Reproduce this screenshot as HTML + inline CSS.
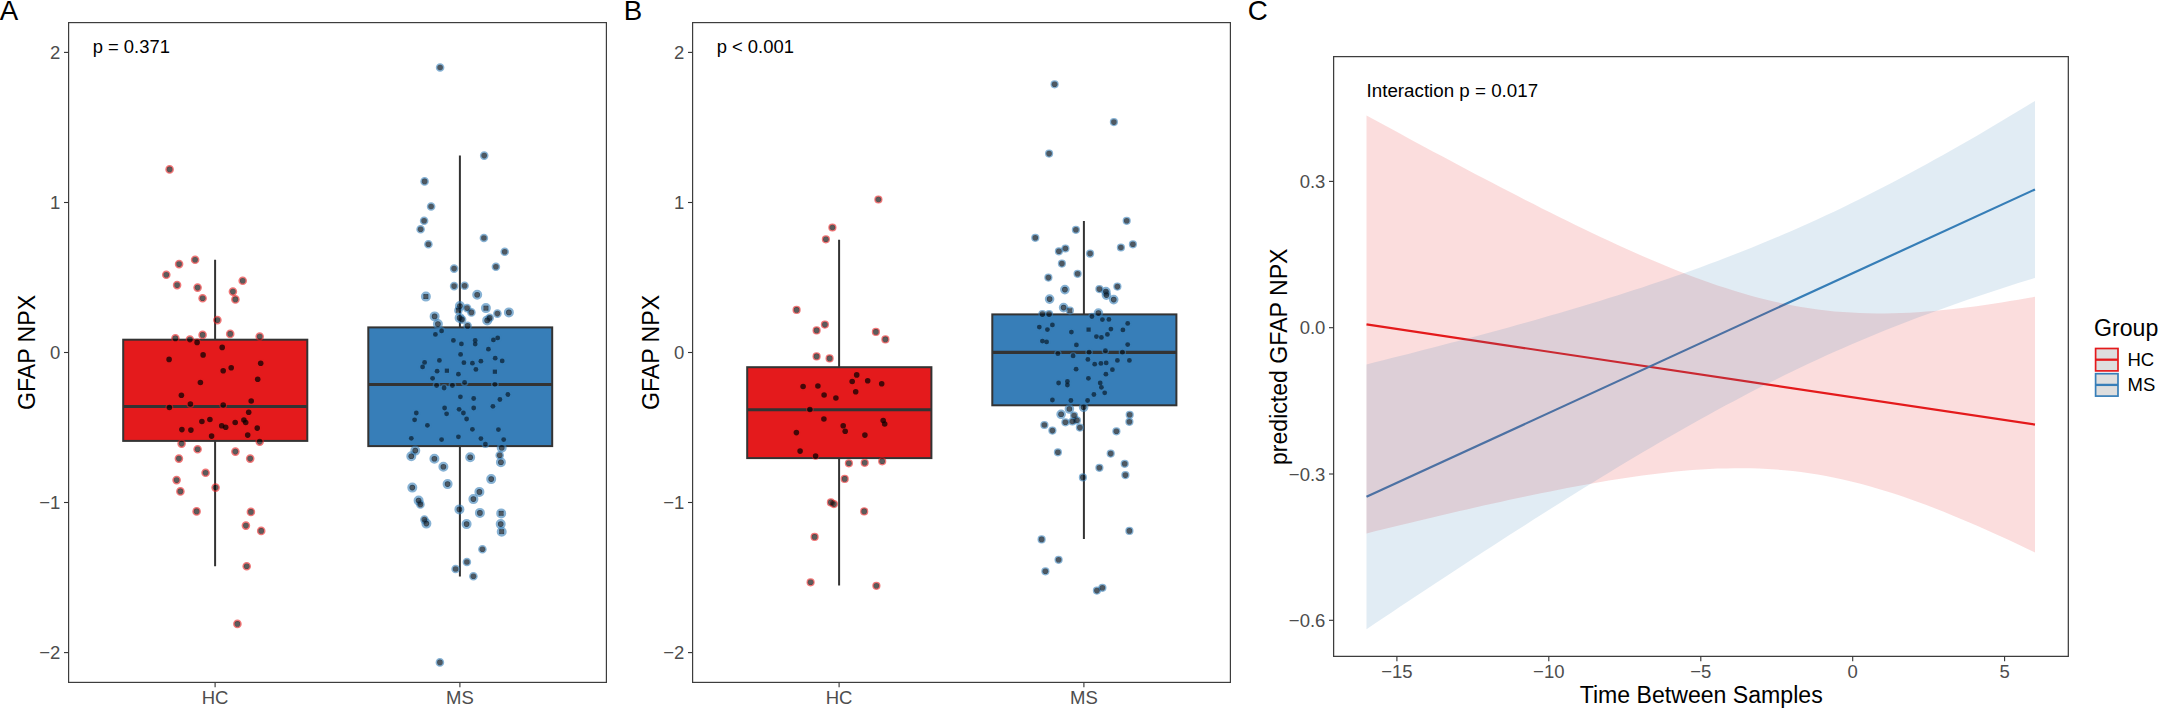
<!DOCTYPE html>
<html><head><meta charset="utf-8"><title>GFAP NPX</title>
<style>html,body{margin:0;padding:0;background:#fff}svg{display:block}</style></head>
<body>
<svg width="2158" height="708" viewBox="0 0 2158 708" font-family="'Liberation Sans', Arial, sans-serif">
<rect width="2158" height="708" fill="#fff"/>
<text x="-0.3" y="19.8" font-size="27.7" fill="#000">A</text>
<text x="623.8" y="19.8" font-size="27.7" fill="#000">B</text>
<text x="1247.7" y="19.8" font-size="27.7" fill="#000">C</text>
<line x1="64" y1="52.4" x2="68.5" y2="52.4" stroke="#333333" stroke-width="1.1"/>
<text x="60.4" y="59" font-size="18.5" fill="#4D4D4D" text-anchor="end">2</text>
<line x1="64" y1="202.5" x2="68.5" y2="202.5" stroke="#333333" stroke-width="1.1"/>
<text x="60.4" y="209.1" font-size="18.5" fill="#4D4D4D" text-anchor="end">1</text>
<line x1="64" y1="352.5" x2="68.5" y2="352.5" stroke="#333333" stroke-width="1.1"/>
<text x="60.4" y="359.1" font-size="18.5" fill="#4D4D4D" text-anchor="end">0</text>
<line x1="64" y1="502.5" x2="68.5" y2="502.5" stroke="#333333" stroke-width="1.1"/>
<text x="60.4" y="509.1" font-size="18.5" fill="#4D4D4D" text-anchor="end">−1</text>
<line x1="64" y1="652.6" x2="68.5" y2="652.6" stroke="#333333" stroke-width="1.1"/>
<text x="60.4" y="659.2" font-size="18.5" fill="#4D4D4D" text-anchor="end">−2</text>
<line x1="215.1" y1="682.4" x2="215.1" y2="687.2" stroke="#333333" stroke-width="1.1"/>
<text x="215.1" y="703.9" font-size="18.5" fill="#4D4D4D" text-anchor="middle">HC</text>
<line x1="459.9" y1="682.4" x2="459.9" y2="687.2" stroke="#333333" stroke-width="1.1"/>
<text x="459.9" y="703.9" font-size="18.5" fill="#4D4D4D" text-anchor="middle">MS</text>
<path d="M215.1 259.8V339.7M215.1 440.9V566.3" stroke="#333333" stroke-width="2" fill="none"/>
<rect x="123.2" y="339.7" width="184.1" height="101.2" fill="#E41A1C" stroke="#333333" stroke-width="2"/>
<line x1="123.2" y1="406.5" x2="307.3" y2="406.5" stroke="#333333" stroke-width="3.1"/>
<path d="M459.9 155.6V327.4M459.9 446.1V576.6" stroke="#333333" stroke-width="2" fill="none"/>
<rect x="368.3" y="327.4" width="183.9" height="118.7" fill="#377EB8" stroke="#333333" stroke-width="2"/>
<line x1="368.3" y1="384.5" x2="552.2" y2="384.5" stroke="#333333" stroke-width="3.1"/>
<circle cx="169.6" cy="169.4" r="3.4" fill="none" stroke="#E41A1C" stroke-opacity="0.6" stroke-width="1.8"/>
<circle cx="195.1" cy="259.8" r="3.4" fill="none" stroke="#E41A1C" stroke-opacity="0.6" stroke-width="1.8"/>
<circle cx="179.1" cy="264.1" r="3.4" fill="none" stroke="#E41A1C" stroke-opacity="0.6" stroke-width="1.8"/>
<circle cx="166.3" cy="274.8" r="3.4" fill="none" stroke="#E41A1C" stroke-opacity="0.6" stroke-width="1.8"/>
<circle cx="242.7" cy="280.8" r="3.4" fill="none" stroke="#E41A1C" stroke-opacity="0.6" stroke-width="1.8"/>
<circle cx="177.1" cy="285.1" r="3.4" fill="none" stroke="#E41A1C" stroke-opacity="0.6" stroke-width="1.8"/>
<circle cx="197.6" cy="287.6" r="3.4" fill="none" stroke="#E41A1C" stroke-opacity="0.6" stroke-width="1.8"/>
<circle cx="232.9" cy="291.6" r="3.4" fill="none" stroke="#E41A1C" stroke-opacity="0.6" stroke-width="1.8"/>
<circle cx="202.6" cy="298.3" r="3.4" fill="none" stroke="#E41A1C" stroke-opacity="0.6" stroke-width="1.8"/>
<circle cx="235.4" cy="299.4" r="3.4" fill="none" stroke="#E41A1C" stroke-opacity="0.6" stroke-width="1.8"/>
<circle cx="217.4" cy="320.1" r="3.4" fill="none" stroke="#E41A1C" stroke-opacity="0.6" stroke-width="1.8"/>
<circle cx="202.6" cy="334.9" r="3.4" fill="none" stroke="#E41A1C" stroke-opacity="0.6" stroke-width="1.8"/>
<circle cx="230.2" cy="333.9" r="3.4" fill="none" stroke="#E41A1C" stroke-opacity="0.6" stroke-width="1.8"/>
<circle cx="175.4" cy="338.4" r="3.4" fill="none" stroke="#E41A1C" stroke-opacity="0.6" stroke-width="1.8"/>
<circle cx="189.9" cy="339.6" r="3.4" fill="none" stroke="#E41A1C" stroke-opacity="0.6" stroke-width="1.8"/>
<circle cx="259.7" cy="336.6" r="3.4" fill="none" stroke="#E41A1C" stroke-opacity="0.6" stroke-width="1.8"/>
<circle cx="259.7" cy="441.6" r="3.4" fill="none" stroke="#E41A1C" stroke-opacity="0.6" stroke-width="1.8"/>
<circle cx="181.6" cy="443.6" r="3.4" fill="none" stroke="#E41A1C" stroke-opacity="0.6" stroke-width="1.8"/>
<circle cx="197.6" cy="449.3" r="3.4" fill="none" stroke="#E41A1C" stroke-opacity="0.6" stroke-width="1.8"/>
<circle cx="235.4" cy="451.6" r="3.4" fill="none" stroke="#E41A1C" stroke-opacity="0.6" stroke-width="1.8"/>
<circle cx="178.9" cy="458.6" r="3.4" fill="none" stroke="#E41A1C" stroke-opacity="0.6" stroke-width="1.8"/>
<circle cx="250.2" cy="458.6" r="3.4" fill="none" stroke="#E41A1C" stroke-opacity="0.6" stroke-width="1.8"/>
<circle cx="205.6" cy="472.8" r="3.4" fill="none" stroke="#E41A1C" stroke-opacity="0.6" stroke-width="1.8"/>
<circle cx="176.6" cy="480.1" r="3.4" fill="none" stroke="#E41A1C" stroke-opacity="0.6" stroke-width="1.8"/>
<circle cx="215.6" cy="487.6" r="3.4" fill="none" stroke="#E41A1C" stroke-opacity="0.6" stroke-width="1.8"/>
<circle cx="180.4" cy="491.4" r="3.4" fill="none" stroke="#E41A1C" stroke-opacity="0.6" stroke-width="1.8"/>
<circle cx="196.6" cy="511.4" r="3.4" fill="none" stroke="#E41A1C" stroke-opacity="0.6" stroke-width="1.8"/>
<circle cx="250.9" cy="511.9" r="3.4" fill="none" stroke="#E41A1C" stroke-opacity="0.6" stroke-width="1.8"/>
<circle cx="245.9" cy="525.6" r="3.4" fill="none" stroke="#E41A1C" stroke-opacity="0.6" stroke-width="1.8"/>
<circle cx="261.2" cy="530.9" r="3.4" fill="none" stroke="#E41A1C" stroke-opacity="0.6" stroke-width="1.8"/>
<circle cx="246.7" cy="566.3" r="3.4" fill="none" stroke="#E41A1C" stroke-opacity="0.6" stroke-width="1.8"/>
<circle cx="237.4" cy="623.9" r="3.4" fill="none" stroke="#E41A1C" stroke-opacity="0.6" stroke-width="1.8"/>
<circle cx="197.1" cy="342.4" r="3.2" fill="none" stroke="#E41A1C" stroke-opacity="0.6" stroke-width="1.5"/>
<circle cx="222.2" cy="347.4" r="3.2" fill="none" stroke="#E41A1C" stroke-opacity="0.6" stroke-width="1.5"/>
<circle cx="203.1" cy="354.9" r="3.2" fill="none" stroke="#E41A1C" stroke-opacity="0.6" stroke-width="1.5"/>
<circle cx="169.1" cy="359.4" r="3.2" fill="none" stroke="#E41A1C" stroke-opacity="0.6" stroke-width="1.5"/>
<circle cx="260.7" cy="363.2" r="3.2" fill="none" stroke="#E41A1C" stroke-opacity="0.6" stroke-width="1.5"/>
<circle cx="231.2" cy="367.7" r="3.2" fill="none" stroke="#E41A1C" stroke-opacity="0.6" stroke-width="1.5"/>
<circle cx="223.2" cy="370.7" r="3.2" fill="none" stroke="#E41A1C" stroke-opacity="0.6" stroke-width="1.5"/>
<circle cx="257.7" cy="379.3" r="3.2" fill="none" stroke="#E41A1C" stroke-opacity="0.6" stroke-width="1.5"/>
<circle cx="200.4" cy="382.5" r="3.2" fill="none" stroke="#E41A1C" stroke-opacity="0.6" stroke-width="1.5"/>
<circle cx="181.4" cy="395.3" r="3.2" fill="none" stroke="#E41A1C" stroke-opacity="0.6" stroke-width="1.5"/>
<circle cx="251.2" cy="401" r="3.2" fill="none" stroke="#E41A1C" stroke-opacity="0.6" stroke-width="1.5"/>
<circle cx="190.4" cy="404" r="3.2" fill="none" stroke="#E41A1C" stroke-opacity="0.6" stroke-width="1.5"/>
<circle cx="223.2" cy="405" r="3.2" fill="none" stroke="#E41A1C" stroke-opacity="0.6" stroke-width="1.5"/>
<circle cx="169.4" cy="407.5" r="3.2" fill="none" stroke="#E41A1C" stroke-opacity="0.6" stroke-width="1.5"/>
<circle cx="248.7" cy="412.3" r="3.2" fill="none" stroke="#E41A1C" stroke-opacity="0.6" stroke-width="1.5"/>
<circle cx="209.9" cy="419.5" r="3.2" fill="none" stroke="#E41A1C" stroke-opacity="0.6" stroke-width="1.5"/>
<circle cx="201.9" cy="421.5" r="3.2" fill="none" stroke="#E41A1C" stroke-opacity="0.6" stroke-width="1.5"/>
<circle cx="243.9" cy="420" r="3.2" fill="none" stroke="#E41A1C" stroke-opacity="0.6" stroke-width="1.5"/>
<circle cx="245.7" cy="422.5" r="3.2" fill="none" stroke="#E41A1C" stroke-opacity="0.6" stroke-width="1.5"/>
<circle cx="235.2" cy="422.5" r="3.2" fill="none" stroke="#E41A1C" stroke-opacity="0.6" stroke-width="1.5"/>
<circle cx="221.7" cy="425.8" r="3.2" fill="none" stroke="#E41A1C" stroke-opacity="0.6" stroke-width="1.5"/>
<circle cx="225.7" cy="427.3" r="3.2" fill="none" stroke="#E41A1C" stroke-opacity="0.6" stroke-width="1.5"/>
<circle cx="181.9" cy="429.6" r="3.2" fill="none" stroke="#E41A1C" stroke-opacity="0.6" stroke-width="1.5"/>
<circle cx="190.9" cy="430.1" r="3.2" fill="none" stroke="#E41A1C" stroke-opacity="0.6" stroke-width="1.5"/>
<circle cx="257.2" cy="428.1" r="3.2" fill="none" stroke="#E41A1C" stroke-opacity="0.6" stroke-width="1.5"/>
<circle cx="247.7" cy="435.1" r="3.2" fill="none" stroke="#E41A1C" stroke-opacity="0.6" stroke-width="1.5"/>
<circle cx="211.6" cy="436.1" r="3.2" fill="none" stroke="#E41A1C" stroke-opacity="0.6" stroke-width="1.5"/>
<circle cx="440.1" cy="67.5" r="3.4" fill="none" stroke="#377EB8" stroke-opacity="0.6" stroke-width="1.8"/>
<circle cx="484.2" cy="155.6" r="3.4" fill="none" stroke="#377EB8" stroke-opacity="0.6" stroke-width="1.8"/>
<circle cx="424.6" cy="181.4" r="3.4" fill="none" stroke="#377EB8" stroke-opacity="0.6" stroke-width="1.8"/>
<circle cx="431.1" cy="206.5" r="3.4" fill="none" stroke="#377EB8" stroke-opacity="0.6" stroke-width="1.8"/>
<circle cx="424.1" cy="220.8" r="3.4" fill="none" stroke="#377EB8" stroke-opacity="0.6" stroke-width="1.8"/>
<circle cx="420.6" cy="229.3" r="3.4" fill="none" stroke="#377EB8" stroke-opacity="0.6" stroke-width="1.8"/>
<circle cx="483.9" cy="238" r="3.4" fill="none" stroke="#377EB8" stroke-opacity="0.6" stroke-width="1.8"/>
<circle cx="428.4" cy="244.3" r="3.4" fill="none" stroke="#377EB8" stroke-opacity="0.6" stroke-width="1.8"/>
<circle cx="504.7" cy="251.8" r="3.4" fill="none" stroke="#377EB8" stroke-opacity="0.6" stroke-width="1.8"/>
<circle cx="495.9" cy="266.8" r="3.4" fill="none" stroke="#377EB8" stroke-opacity="0.6" stroke-width="1.8"/>
<circle cx="454.1" cy="268.6" r="3.4" fill="none" stroke="#377EB8" stroke-opacity="0.6" stroke-width="1.8"/>
<circle cx="454.1" cy="286.1" r="3.4" fill="none" stroke="#377EB8" stroke-opacity="0.6" stroke-width="1.8"/>
<circle cx="464.6" cy="285.8" r="3.4" fill="none" stroke="#377EB8" stroke-opacity="0.6" stroke-width="1.8"/>
<circle cx="425.9" cy="296.6" r="3.6" fill="none" stroke="#377EB8" stroke-opacity="0.6" stroke-width="2.8"/>
<circle cx="477.2" cy="294.8" r="3.6" fill="none" stroke="#377EB8" stroke-opacity="0.6" stroke-width="2.8"/>
<circle cx="459.9" cy="306.1" r="3.6" fill="none" stroke="#377EB8" stroke-opacity="0.6" stroke-width="2.8"/>
<circle cx="467.1" cy="308.1" r="3.4" fill="none" stroke="#377EB8" stroke-opacity="0.6" stroke-width="1.8"/>
<circle cx="458.4" cy="310.4" r="3.4" fill="none" stroke="#377EB8" stroke-opacity="0.6" stroke-width="1.8"/>
<circle cx="471.4" cy="312.4" r="3.4" fill="none" stroke="#377EB8" stroke-opacity="0.6" stroke-width="1.8"/>
<circle cx="485.9" cy="308.1" r="3.6" fill="none" stroke="#377EB8" stroke-opacity="0.6" stroke-width="2.8"/>
<circle cx="497.4" cy="313.6" r="3.4" fill="none" stroke="#377EB8" stroke-opacity="0.6" stroke-width="1.8"/>
<circle cx="508.9" cy="312.4" r="3.6" fill="none" stroke="#377EB8" stroke-opacity="0.6" stroke-width="2.8"/>
<circle cx="434.6" cy="316.4" r="3.6" fill="none" stroke="#377EB8" stroke-opacity="0.6" stroke-width="2.8"/>
<circle cx="459.6" cy="317.9" r="3.6" fill="none" stroke="#377EB8" stroke-opacity="0.6" stroke-width="2.8"/>
<circle cx="462.1" cy="319.6" r="3.4" fill="none" stroke="#377EB8" stroke-opacity="0.6" stroke-width="1.8"/>
<circle cx="489.7" cy="317.9" r="3.4" fill="none" stroke="#377EB8" stroke-opacity="0.6" stroke-width="1.8"/>
<circle cx="487.2" cy="320.4" r="3.6" fill="none" stroke="#377EB8" stroke-opacity="0.6" stroke-width="2.8"/>
<circle cx="437.9" cy="324.1" r="3.6" fill="none" stroke="#377EB8" stroke-opacity="0.6" stroke-width="2.8"/>
<circle cx="467.6" cy="325.9" r="3.4" fill="none" stroke="#377EB8" stroke-opacity="0.6" stroke-width="1.8"/>
<circle cx="415.3" cy="450.6" r="3.6" fill="none" stroke="#377EB8" stroke-opacity="0.6" stroke-width="2.8"/>
<circle cx="411.3" cy="456.3" r="3.6" fill="none" stroke="#377EB8" stroke-opacity="0.6" stroke-width="2.8"/>
<circle cx="501.7" cy="447.8" r="3.6" fill="none" stroke="#377EB8" stroke-opacity="0.6" stroke-width="2.8"/>
<circle cx="499.7" cy="455.3" r="3.4" fill="none" stroke="#377EB8" stroke-opacity="0.6" stroke-width="1.8"/>
<circle cx="500.9" cy="462.3" r="3.6" fill="none" stroke="#377EB8" stroke-opacity="0.6" stroke-width="2.8"/>
<circle cx="434.4" cy="458.8" r="3.6" fill="none" stroke="#377EB8" stroke-opacity="0.6" stroke-width="2.8"/>
<circle cx="470.2" cy="457.3" r="3.6" fill="none" stroke="#377EB8" stroke-opacity="0.6" stroke-width="2.8"/>
<circle cx="443.4" cy="466.8" r="3.6" fill="none" stroke="#377EB8" stroke-opacity="0.6" stroke-width="2.8"/>
<circle cx="491.2" cy="479.1" r="3.6" fill="none" stroke="#377EB8" stroke-opacity="0.6" stroke-width="2.8"/>
<circle cx="447.6" cy="484.1" r="3.6" fill="none" stroke="#377EB8" stroke-opacity="0.6" stroke-width="2.8"/>
<circle cx="412.3" cy="487.6" r="3.6" fill="none" stroke="#377EB8" stroke-opacity="0.6" stroke-width="2.8"/>
<circle cx="479.4" cy="491.9" r="3.6" fill="none" stroke="#377EB8" stroke-opacity="0.6" stroke-width="2.8"/>
<circle cx="473.4" cy="499.1" r="3.6" fill="none" stroke="#377EB8" stroke-opacity="0.6" stroke-width="2.8"/>
<circle cx="418.6" cy="500.6" r="3.6" fill="none" stroke="#377EB8" stroke-opacity="0.6" stroke-width="2.8"/>
<circle cx="420.4" cy="504.4" r="3.4" fill="none" stroke="#377EB8" stroke-opacity="0.6" stroke-width="1.8"/>
<circle cx="459.4" cy="509.4" r="3.6" fill="none" stroke="#377EB8" stroke-opacity="0.6" stroke-width="2.8"/>
<circle cx="479.9" cy="512.9" r="3.6" fill="none" stroke="#377EB8" stroke-opacity="0.6" stroke-width="2.8"/>
<circle cx="501.2" cy="513.4" r="3.6" fill="none" stroke="#377EB8" stroke-opacity="0.6" stroke-width="2.8"/>
<circle cx="424.4" cy="519.6" r="3.4" fill="none" stroke="#377EB8" stroke-opacity="0.6" stroke-width="1.8"/>
<circle cx="426.4" cy="523.6" r="3.6" fill="none" stroke="#377EB8" stroke-opacity="0.6" stroke-width="2.8"/>
<circle cx="466.6" cy="524.1" r="3.6" fill="none" stroke="#377EB8" stroke-opacity="0.6" stroke-width="2.8"/>
<circle cx="500.7" cy="524.1" r="3.6" fill="none" stroke="#377EB8" stroke-opacity="0.6" stroke-width="2.8"/>
<circle cx="501.7" cy="531.7" r="3.6" fill="none" stroke="#377EB8" stroke-opacity="0.6" stroke-width="2.8"/>
<circle cx="482.4" cy="549.2" r="3.4" fill="none" stroke="#377EB8" stroke-opacity="0.6" stroke-width="1.8"/>
<circle cx="466.9" cy="562" r="3.4" fill="none" stroke="#377EB8" stroke-opacity="0.6" stroke-width="1.8"/>
<circle cx="455.6" cy="569" r="3.4" fill="none" stroke="#377EB8" stroke-opacity="0.6" stroke-width="1.8"/>
<circle cx="473.4" cy="576.3" r="3.4" fill="none" stroke="#377EB8" stroke-opacity="0.6" stroke-width="1.8"/>
<circle cx="439.9" cy="662.4" r="3.4" fill="none" stroke="#377EB8" stroke-opacity="0.6" stroke-width="1.8"/>
<circle cx="441.6" cy="330.9" r="3.2" fill="none" stroke="#377EB8" stroke-opacity="0.6" stroke-width="1.5"/>
<circle cx="435.4" cy="334.4" r="3.2" fill="none" stroke="#377EB8" stroke-opacity="0.6" stroke-width="1.5"/>
<circle cx="497.7" cy="337.9" r="3.2" fill="none" stroke="#377EB8" stroke-opacity="0.6" stroke-width="1.5"/>
<circle cx="493.4" cy="339.9" r="3.2" fill="none" stroke="#377EB8" stroke-opacity="0.6" stroke-width="1.5"/>
<circle cx="453.4" cy="340.4" r="3.2" fill="none" stroke="#377EB8" stroke-opacity="0.6" stroke-width="1.5"/>
<circle cx="475.2" cy="340.4" r="3.2" fill="none" stroke="#377EB8" stroke-opacity="0.6" stroke-width="1.5"/>
<circle cx="461.4" cy="343.9" r="3.2" fill="none" stroke="#377EB8" stroke-opacity="0.6" stroke-width="1.5"/>
<circle cx="475.2" cy="344.1" r="3.2" fill="none" stroke="#377EB8" stroke-opacity="0.6" stroke-width="1.5"/>
<circle cx="488.4" cy="349.2" r="3.2" fill="none" stroke="#377EB8" stroke-opacity="0.6" stroke-width="1.5"/>
<circle cx="460.6" cy="354.4" r="3.2" fill="none" stroke="#377EB8" stroke-opacity="0.6" stroke-width="1.5"/>
<circle cx="495.2" cy="358.2" r="3.2" fill="none" stroke="#377EB8" stroke-opacity="0.6" stroke-width="1.5"/>
<circle cx="439.4" cy="360.4" r="3.2" fill="none" stroke="#377EB8" stroke-opacity="0.6" stroke-width="1.5"/>
<circle cx="502.2" cy="360.9" r="3.2" fill="none" stroke="#377EB8" stroke-opacity="0.6" stroke-width="1.5"/>
<circle cx="480.9" cy="361.2" r="3.2" fill="none" stroke="#377EB8" stroke-opacity="0.6" stroke-width="1.5"/>
<circle cx="424.6" cy="362.4" r="3.2" fill="none" stroke="#377EB8" stroke-opacity="0.6" stroke-width="1.5"/>
<circle cx="463.9" cy="362.7" r="3.2" fill="none" stroke="#377EB8" stroke-opacity="0.6" stroke-width="1.5"/>
<circle cx="472.4" cy="363.2" r="3.2" fill="none" stroke="#377EB8" stroke-opacity="0.6" stroke-width="1.5"/>
<circle cx="422.6" cy="366.9" r="3.2" fill="none" stroke="#377EB8" stroke-opacity="0.6" stroke-width="1.5"/>
<circle cx="475.9" cy="369.4" r="3.2" fill="none" stroke="#377EB8" stroke-opacity="0.6" stroke-width="1.5"/>
<circle cx="437.1" cy="371.2" r="3.2" fill="none" stroke="#377EB8" stroke-opacity="0.6" stroke-width="1.5"/>
<circle cx="446.9" cy="370.7" r="3.2" fill="none" stroke="#377EB8" stroke-opacity="0.6" stroke-width="1.5"/>
<circle cx="494.9" cy="371.7" r="3.2" fill="none" stroke="#377EB8" stroke-opacity="0.6" stroke-width="1.5"/>
<circle cx="458.4" cy="374.2" r="3.2" fill="none" stroke="#377EB8" stroke-opacity="0.6" stroke-width="1.5"/>
<circle cx="432.6" cy="378.3" r="3.2" fill="none" stroke="#377EB8" stroke-opacity="0.6" stroke-width="1.5"/>
<circle cx="464.6" cy="382.3" r="3.2" fill="none" stroke="#377EB8" stroke-opacity="0.6" stroke-width="1.5"/>
<circle cx="436.6" cy="385.5" r="3.2" fill="none" stroke="#377EB8" stroke-opacity="0.6" stroke-width="1.5"/>
<circle cx="452.4" cy="385.5" r="3.2" fill="none" stroke="#377EB8" stroke-opacity="0.6" stroke-width="1.5"/>
<circle cx="494.9" cy="384.3" r="3.2" fill="none" stroke="#377EB8" stroke-opacity="0.6" stroke-width="1.5"/>
<circle cx="444.1" cy="388" r="3.2" fill="none" stroke="#377EB8" stroke-opacity="0.6" stroke-width="1.5"/>
<circle cx="507.9" cy="394.5" r="3.2" fill="none" stroke="#377EB8" stroke-opacity="0.6" stroke-width="1.5"/>
<circle cx="460.4" cy="396.8" r="3.2" fill="none" stroke="#377EB8" stroke-opacity="0.6" stroke-width="1.5"/>
<circle cx="473.7" cy="398.5" r="3.2" fill="none" stroke="#377EB8" stroke-opacity="0.6" stroke-width="1.5"/>
<circle cx="499.9" cy="399.5" r="3.2" fill="none" stroke="#377EB8" stroke-opacity="0.6" stroke-width="1.5"/>
<circle cx="492.9" cy="406.3" r="3.2" fill="none" stroke="#377EB8" stroke-opacity="0.6" stroke-width="1.5"/>
<circle cx="473.7" cy="408" r="3.2" fill="none" stroke="#377EB8" stroke-opacity="0.6" stroke-width="1.5"/>
<circle cx="444.6" cy="408" r="3.2" fill="none" stroke="#377EB8" stroke-opacity="0.6" stroke-width="1.5"/>
<circle cx="459.1" cy="409.3" r="3.2" fill="none" stroke="#377EB8" stroke-opacity="0.6" stroke-width="1.5"/>
<circle cx="446.6" cy="413.8" r="3.2" fill="none" stroke="#377EB8" stroke-opacity="0.6" stroke-width="1.5"/>
<circle cx="416.3" cy="413" r="3.2" fill="none" stroke="#377EB8" stroke-opacity="0.6" stroke-width="1.5"/>
<circle cx="463.4" cy="413" r="3.2" fill="none" stroke="#377EB8" stroke-opacity="0.6" stroke-width="1.5"/>
<circle cx="414.6" cy="419.8" r="3.2" fill="none" stroke="#377EB8" stroke-opacity="0.6" stroke-width="1.5"/>
<circle cx="466.6" cy="419" r="3.2" fill="none" stroke="#377EB8" stroke-opacity="0.6" stroke-width="1.5"/>
<circle cx="427.4" cy="425.3" r="3.2" fill="none" stroke="#377EB8" stroke-opacity="0.6" stroke-width="1.5"/>
<circle cx="472.4" cy="429.3" r="3.2" fill="none" stroke="#377EB8" stroke-opacity="0.6" stroke-width="1.5"/>
<circle cx="498.4" cy="429.6" r="3.2" fill="none" stroke="#377EB8" stroke-opacity="0.6" stroke-width="1.5"/>
<circle cx="411.3" cy="438.3" r="3.2" fill="none" stroke="#377EB8" stroke-opacity="0.6" stroke-width="1.5"/>
<circle cx="441.6" cy="439.6" r="3.2" fill="none" stroke="#377EB8" stroke-opacity="0.6" stroke-width="1.5"/>
<circle cx="458.4" cy="436.8" r="3.2" fill="none" stroke="#377EB8" stroke-opacity="0.6" stroke-width="1.5"/>
<circle cx="503.7" cy="439.6" r="3.2" fill="none" stroke="#377EB8" stroke-opacity="0.6" stroke-width="1.5"/>
<circle cx="480.9" cy="438.6" r="3.2" fill="none" stroke="#377EB8" stroke-opacity="0.6" stroke-width="1.5"/>
<circle cx="485.4" cy="444.1" r="3.2" fill="none" stroke="#377EB8" stroke-opacity="0.6" stroke-width="1.5"/>
<circle cx="169.6" cy="169.4" r="2.8" fill="#000" fill-opacity="0.64"/>
<circle cx="195.1" cy="259.8" r="2.8" fill="#000" fill-opacity="0.64"/>
<circle cx="179.1" cy="264.1" r="2.8" fill="#000" fill-opacity="0.64"/>
<circle cx="166.3" cy="274.8" r="2.8" fill="#000" fill-opacity="0.64"/>
<circle cx="242.7" cy="280.8" r="2.8" fill="#000" fill-opacity="0.64"/>
<circle cx="177.1" cy="285.1" r="2.8" fill="#000" fill-opacity="0.64"/>
<circle cx="197.6" cy="287.6" r="2.8" fill="#000" fill-opacity="0.64"/>
<circle cx="232.9" cy="291.6" r="2.8" fill="#000" fill-opacity="0.64"/>
<circle cx="202.6" cy="298.3" r="2.8" fill="#000" fill-opacity="0.64"/>
<circle cx="235.4" cy="299.4" r="2.8" fill="#000" fill-opacity="0.64"/>
<circle cx="217.4" cy="320.1" r="2.8" fill="#000" fill-opacity="0.64"/>
<circle cx="202.6" cy="334.9" r="2.8" fill="#000" fill-opacity="0.64"/>
<circle cx="230.2" cy="333.9" r="2.8" fill="#000" fill-opacity="0.64"/>
<circle cx="175.4" cy="338.4" r="2.8" fill="#000" fill-opacity="0.64"/>
<circle cx="189.9" cy="339.6" r="2.8" fill="#000" fill-opacity="0.64"/>
<circle cx="259.7" cy="336.6" r="2.8" fill="#000" fill-opacity="0.64"/>
<circle cx="259.7" cy="441.6" r="2.8" fill="#000" fill-opacity="0.64"/>
<circle cx="181.6" cy="443.6" r="2.8" fill="#000" fill-opacity="0.64"/>
<circle cx="197.6" cy="449.3" r="2.8" fill="#000" fill-opacity="0.64"/>
<circle cx="235.4" cy="451.6" r="2.8" fill="#000" fill-opacity="0.64"/>
<circle cx="178.9" cy="458.6" r="2.8" fill="#000" fill-opacity="0.64"/>
<circle cx="250.2" cy="458.6" r="2.8" fill="#000" fill-opacity="0.64"/>
<circle cx="205.6" cy="472.8" r="2.8" fill="#000" fill-opacity="0.64"/>
<circle cx="176.6" cy="480.1" r="2.8" fill="#000" fill-opacity="0.64"/>
<circle cx="215.6" cy="487.6" r="2.8" fill="#000" fill-opacity="0.64"/>
<circle cx="180.4" cy="491.4" r="2.8" fill="#000" fill-opacity="0.64"/>
<circle cx="196.6" cy="511.4" r="2.8" fill="#000" fill-opacity="0.64"/>
<circle cx="250.9" cy="511.9" r="2.8" fill="#000" fill-opacity="0.64"/>
<circle cx="245.9" cy="525.6" r="2.8" fill="#000" fill-opacity="0.64"/>
<circle cx="261.2" cy="530.9" r="2.8" fill="#000" fill-opacity="0.64"/>
<circle cx="246.7" cy="566.3" r="2.8" fill="#000" fill-opacity="0.64"/>
<circle cx="237.4" cy="623.9" r="2.8" fill="#000" fill-opacity="0.64"/>
<circle cx="197.1" cy="342.4" r="2.8" fill="#000" fill-opacity="0.7"/>
<circle cx="222.2" cy="347.4" r="2.8" fill="#000" fill-opacity="0.7"/>
<circle cx="203.1" cy="354.9" r="2.8" fill="#000" fill-opacity="0.7"/>
<circle cx="169.1" cy="359.4" r="2.8" fill="#000" fill-opacity="0.7"/>
<circle cx="260.7" cy="363.2" r="2.8" fill="#000" fill-opacity="0.7"/>
<circle cx="231.2" cy="367.7" r="2.8" fill="#000" fill-opacity="0.7"/>
<circle cx="223.2" cy="370.7" r="2.8" fill="#000" fill-opacity="0.7"/>
<circle cx="257.7" cy="379.3" r="2.8" fill="#000" fill-opacity="0.7"/>
<circle cx="200.4" cy="382.5" r="2.8" fill="#000" fill-opacity="0.7"/>
<circle cx="181.4" cy="395.3" r="2.8" fill="#000" fill-opacity="0.7"/>
<circle cx="251.2" cy="401" r="2.8" fill="#000" fill-opacity="0.7"/>
<circle cx="190.4" cy="404" r="2.8" fill="#000" fill-opacity="0.7"/>
<circle cx="223.2" cy="405" r="2.8" fill="#000" fill-opacity="0.7"/>
<circle cx="169.4" cy="407.5" r="2.8" fill="#000" fill-opacity="0.7"/>
<circle cx="248.7" cy="412.3" r="2.8" fill="#000" fill-opacity="0.7"/>
<circle cx="209.9" cy="419.5" r="2.8" fill="#000" fill-opacity="0.7"/>
<circle cx="201.9" cy="421.5" r="2.8" fill="#000" fill-opacity="0.7"/>
<circle cx="243.9" cy="420" r="2.8" fill="#000" fill-opacity="0.7"/>
<circle cx="245.7" cy="422.5" r="2.8" fill="#000" fill-opacity="0.7"/>
<circle cx="235.2" cy="422.5" r="2.8" fill="#000" fill-opacity="0.7"/>
<circle cx="221.7" cy="425.8" r="2.8" fill="#000" fill-opacity="0.7"/>
<circle cx="225.7" cy="427.3" r="2.8" fill="#000" fill-opacity="0.7"/>
<circle cx="181.9" cy="429.6" r="2.8" fill="#000" fill-opacity="0.7"/>
<circle cx="190.9" cy="430.1" r="2.8" fill="#000" fill-opacity="0.7"/>
<circle cx="257.2" cy="428.1" r="2.8" fill="#000" fill-opacity="0.7"/>
<circle cx="247.7" cy="435.1" r="2.8" fill="#000" fill-opacity="0.7"/>
<circle cx="211.6" cy="436.1" r="2.8" fill="#000" fill-opacity="0.7"/>
<circle cx="440.1" cy="67.5" r="2.8" fill="#04121f" fill-opacity="0.7"/>
<circle cx="484.2" cy="155.6" r="2.8" fill="#04121f" fill-opacity="0.7"/>
<circle cx="424.6" cy="181.4" r="2.8" fill="#04121f" fill-opacity="0.7"/>
<circle cx="431.1" cy="206.5" r="2.8" fill="#04121f" fill-opacity="0.7"/>
<circle cx="424.1" cy="220.8" r="2.8" fill="#04121f" fill-opacity="0.7"/>
<circle cx="420.6" cy="229.3" r="2.8" fill="#04121f" fill-opacity="0.7"/>
<circle cx="483.9" cy="238" r="2.8" fill="#04121f" fill-opacity="0.7"/>
<circle cx="428.4" cy="244.3" r="2.8" fill="#04121f" fill-opacity="0.7"/>
<circle cx="504.7" cy="251.8" r="2.8" fill="#04121f" fill-opacity="0.7"/>
<circle cx="495.9" cy="266.8" r="2.8" fill="#04121f" fill-opacity="0.7"/>
<circle cx="454.1" cy="268.6" r="2.8" fill="#04121f" fill-opacity="0.7"/>
<circle cx="454.1" cy="286.1" r="2.8" fill="#04121f" fill-opacity="0.7"/>
<circle cx="464.6" cy="285.8" r="2.8" fill="#04121f" fill-opacity="0.7"/>
<rect x="423.4" y="294.1" width="4.9" height="4.9" fill="#04121f" fill-opacity="0.7"/>
<circle cx="477.2" cy="294.8" r="2.8" fill="#04121f" fill-opacity="0.7"/>
<circle cx="459.9" cy="306.1" r="2.8" fill="#04121f" fill-opacity="0.7"/>
<circle cx="467.1" cy="308.1" r="2.8" fill="#04121f" fill-opacity="0.7"/>
<rect x="455.9" y="307.9" width="4.9" height="4.9" fill="#04121f" fill-opacity="0.7"/>
<circle cx="471.4" cy="312.4" r="2.8" fill="#04121f" fill-opacity="0.7"/>
<rect x="483.5" y="305.7" width="4.9" height="4.9" fill="#04121f" fill-opacity="0.7"/>
<circle cx="497.4" cy="313.6" r="2.8" fill="#04121f" fill-opacity="0.7"/>
<circle cx="508.9" cy="312.4" r="2.8" fill="#04121f" fill-opacity="0.7"/>
<circle cx="434.6" cy="316.4" r="2.8" fill="#04121f" fill-opacity="0.7"/>
<circle cx="459.6" cy="317.9" r="2.8" fill="#04121f" fill-opacity="0.7"/>
<circle cx="462.1" cy="319.6" r="2.8" fill="#04121f" fill-opacity="0.7"/>
<circle cx="489.7" cy="317.9" r="2.8" fill="#04121f" fill-opacity="0.7"/>
<circle cx="487.2" cy="320.4" r="2.8" fill="#04121f" fill-opacity="0.7"/>
<circle cx="437.9" cy="324.1" r="2.8" fill="#04121f" fill-opacity="0.7"/>
<circle cx="467.6" cy="325.9" r="2.8" fill="#04121f" fill-opacity="0.7"/>
<circle cx="415.3" cy="450.6" r="2.8" fill="#04121f" fill-opacity="0.7"/>
<circle cx="411.3" cy="456.3" r="2.8" fill="#04121f" fill-opacity="0.7"/>
<circle cx="501.7" cy="447.8" r="2.8" fill="#04121f" fill-opacity="0.7"/>
<circle cx="499.7" cy="455.3" r="2.8" fill="#04121f" fill-opacity="0.7"/>
<circle cx="500.9" cy="462.3" r="2.8" fill="#04121f" fill-opacity="0.7"/>
<circle cx="434.4" cy="458.8" r="2.8" fill="#04121f" fill-opacity="0.7"/>
<circle cx="470.2" cy="457.3" r="2.8" fill="#04121f" fill-opacity="0.7"/>
<circle cx="443.4" cy="466.8" r="2.8" fill="#04121f" fill-opacity="0.7"/>
<circle cx="491.2" cy="479.1" r="2.8" fill="#04121f" fill-opacity="0.7"/>
<circle cx="447.6" cy="484.1" r="2.8" fill="#04121f" fill-opacity="0.7"/>
<circle cx="412.3" cy="487.6" r="2.8" fill="#04121f" fill-opacity="0.7"/>
<circle cx="479.4" cy="491.9" r="2.8" fill="#04121f" fill-opacity="0.7"/>
<circle cx="473.4" cy="499.1" r="2.8" fill="#04121f" fill-opacity="0.7"/>
<circle cx="418.6" cy="500.6" r="2.8" fill="#04121f" fill-opacity="0.7"/>
<circle cx="420.4" cy="504.4" r="2.8" fill="#04121f" fill-opacity="0.7"/>
<circle cx="459.4" cy="509.4" r="2.8" fill="#04121f" fill-opacity="0.7"/>
<circle cx="479.9" cy="512.9" r="2.8" fill="#04121f" fill-opacity="0.7"/>
<rect x="498.7" y="510.9" width="4.9" height="4.9" fill="#04121f" fill-opacity="0.7"/>
<circle cx="424.4" cy="519.6" r="2.8" fill="#04121f" fill-opacity="0.7"/>
<circle cx="426.4" cy="523.6" r="2.8" fill="#04121f" fill-opacity="0.7"/>
<circle cx="466.6" cy="524.1" r="2.8" fill="#04121f" fill-opacity="0.7"/>
<circle cx="500.7" cy="524.1" r="2.8" fill="#04121f" fill-opacity="0.7"/>
<rect x="499.2" y="529.2" width="4.9" height="4.9" fill="#04121f" fill-opacity="0.7"/>
<circle cx="482.4" cy="549.2" r="2.8" fill="#04121f" fill-opacity="0.7"/>
<circle cx="466.9" cy="562" r="2.8" fill="#04121f" fill-opacity="0.7"/>
<circle cx="455.6" cy="569" r="2.8" fill="#04121f" fill-opacity="0.7"/>
<circle cx="473.4" cy="576.3" r="2.8" fill="#04121f" fill-opacity="0.7"/>
<circle cx="439.9" cy="662.4" r="2.8" fill="#04121f" fill-opacity="0.7"/>
<circle cx="441.6" cy="330.9" r="2.4" fill="#04121f" fill-opacity="0.64"/>
<circle cx="435.4" cy="334.4" r="2.4" fill="#04121f" fill-opacity="0.64"/>
<circle cx="497.7" cy="337.9" r="2.4" fill="#04121f" fill-opacity="0.64"/>
<circle cx="493.4" cy="339.9" r="2.4" fill="#04121f" fill-opacity="0.64"/>
<circle cx="453.4" cy="340.4" r="2.4" fill="#04121f" fill-opacity="0.64"/>
<circle cx="475.2" cy="340.4" r="2.4" fill="#04121f" fill-opacity="0.64"/>
<circle cx="461.4" cy="343.9" r="2.4" fill="#04121f" fill-opacity="0.64"/>
<circle cx="475.2" cy="344.1" r="2.4" fill="#04121f" fill-opacity="0.64"/>
<circle cx="488.4" cy="349.2" r="2.4" fill="#04121f" fill-opacity="0.64"/>
<circle cx="460.6" cy="354.4" r="2.4" fill="#04121f" fill-opacity="0.64"/>
<circle cx="495.2" cy="358.2" r="2.4" fill="#04121f" fill-opacity="0.64"/>
<circle cx="439.4" cy="360.4" r="2.4" fill="#04121f" fill-opacity="0.64"/>
<circle cx="502.2" cy="360.9" r="2.4" fill="#04121f" fill-opacity="0.64"/>
<circle cx="480.9" cy="361.2" r="2.4" fill="#04121f" fill-opacity="0.64"/>
<circle cx="424.6" cy="362.4" r="2.4" fill="#04121f" fill-opacity="0.64"/>
<circle cx="463.9" cy="362.7" r="2.4" fill="#04121f" fill-opacity="0.64"/>
<circle cx="472.4" cy="363.2" r="2.4" fill="#04121f" fill-opacity="0.64"/>
<circle cx="422.6" cy="366.9" r="2.4" fill="#04121f" fill-opacity="0.64"/>
<circle cx="475.9" cy="369.4" r="2.4" fill="#04121f" fill-opacity="0.64"/>
<circle cx="437.1" cy="371.2" r="2.4" fill="#04121f" fill-opacity="0.64"/>
<rect x="444.8" y="368.6" width="4.2" height="4.2" fill="#04121f" fill-opacity="0.64"/>
<rect x="492.8" y="369.6" width="4.2" height="4.2" fill="#04121f" fill-opacity="0.64"/>
<circle cx="458.4" cy="374.2" r="2.4" fill="#04121f" fill-opacity="0.64"/>
<circle cx="432.6" cy="378.3" r="2.4" fill="#04121f" fill-opacity="0.64"/>
<circle cx="464.6" cy="382.3" r="2.4" fill="#04121f" fill-opacity="0.64"/>
<circle cx="436.6" cy="385.5" r="2.4" fill="#04121f" fill-opacity="0.64"/>
<circle cx="452.4" cy="385.5" r="2.4" fill="#04121f" fill-opacity="0.64"/>
<circle cx="494.9" cy="384.3" r="2.4" fill="#04121f" fill-opacity="0.64"/>
<circle cx="444.1" cy="388" r="2.4" fill="#04121f" fill-opacity="0.64"/>
<circle cx="507.9" cy="394.5" r="2.4" fill="#04121f" fill-opacity="0.64"/>
<circle cx="460.4" cy="396.8" r="2.4" fill="#04121f" fill-opacity="0.64"/>
<circle cx="473.7" cy="398.5" r="2.4" fill="#04121f" fill-opacity="0.64"/>
<circle cx="499.9" cy="399.5" r="2.4" fill="#04121f" fill-opacity="0.64"/>
<circle cx="492.9" cy="406.3" r="2.4" fill="#04121f" fill-opacity="0.64"/>
<circle cx="473.7" cy="408" r="2.4" fill="#04121f" fill-opacity="0.64"/>
<circle cx="444.6" cy="408" r="2.4" fill="#04121f" fill-opacity="0.64"/>
<circle cx="459.1" cy="409.3" r="2.4" fill="#04121f" fill-opacity="0.64"/>
<circle cx="446.6" cy="413.8" r="2.4" fill="#04121f" fill-opacity="0.64"/>
<circle cx="416.3" cy="413" r="2.4" fill="#04121f" fill-opacity="0.64"/>
<circle cx="463.4" cy="413" r="2.4" fill="#04121f" fill-opacity="0.64"/>
<circle cx="414.6" cy="419.8" r="2.4" fill="#04121f" fill-opacity="0.64"/>
<circle cx="466.6" cy="419" r="2.4" fill="#04121f" fill-opacity="0.64"/>
<circle cx="427.4" cy="425.3" r="2.4" fill="#04121f" fill-opacity="0.64"/>
<circle cx="472.4" cy="429.3" r="2.4" fill="#04121f" fill-opacity="0.64"/>
<circle cx="498.4" cy="429.6" r="2.4" fill="#04121f" fill-opacity="0.64"/>
<circle cx="411.3" cy="438.3" r="2.4" fill="#04121f" fill-opacity="0.64"/>
<circle cx="441.6" cy="439.6" r="2.4" fill="#04121f" fill-opacity="0.64"/>
<circle cx="458.4" cy="436.8" r="2.4" fill="#04121f" fill-opacity="0.64"/>
<circle cx="503.7" cy="439.6" r="2.4" fill="#04121f" fill-opacity="0.64"/>
<circle cx="480.9" cy="438.6" r="2.4" fill="#04121f" fill-opacity="0.64"/>
<circle cx="485.4" cy="444.1" r="2.4" fill="#04121f" fill-opacity="0.64"/>
<rect x="68.60" y="22.60" width="537.80" height="659.80" fill="none" stroke="#3d3d3d" stroke-width="1.2"/>
<text x="92.7" y="52.7" font-size="18.4" fill="#000">p = 0.371</text>
<text transform="translate(35.4,352.5) rotate(-90)" font-size="23.1" fill="#000" text-anchor="middle">GFAP NPX</text>
<line x1="688" y1="52.4" x2="692.5" y2="52.4" stroke="#333333" stroke-width="1.1"/>
<text x="684.4" y="59" font-size="18.5" fill="#4D4D4D" text-anchor="end">2</text>
<line x1="688" y1="202.5" x2="692.5" y2="202.5" stroke="#333333" stroke-width="1.1"/>
<text x="684.4" y="209.1" font-size="18.5" fill="#4D4D4D" text-anchor="end">1</text>
<line x1="688" y1="352.5" x2="692.5" y2="352.5" stroke="#333333" stroke-width="1.1"/>
<text x="684.4" y="359.1" font-size="18.5" fill="#4D4D4D" text-anchor="end">0</text>
<line x1="688" y1="502.5" x2="692.5" y2="502.5" stroke="#333333" stroke-width="1.1"/>
<text x="684.4" y="509.1" font-size="18.5" fill="#4D4D4D" text-anchor="end">−1</text>
<line x1="688" y1="652.6" x2="692.5" y2="652.6" stroke="#333333" stroke-width="1.1"/>
<text x="684.4" y="659.2" font-size="18.5" fill="#4D4D4D" text-anchor="end">−2</text>
<line x1="839.1" y1="682.4" x2="839.1" y2="687.2" stroke="#333333" stroke-width="1.1"/>
<text x="839.1" y="703.9" font-size="18.5" fill="#4D4D4D" text-anchor="middle">HC</text>
<line x1="1083.9" y1="682.4" x2="1083.9" y2="687.2" stroke="#333333" stroke-width="1.1"/>
<text x="1083.9" y="703.9" font-size="18.5" fill="#4D4D4D" text-anchor="middle">MS</text>
<path d="M839.1 239.8V367.2M839.1 458.1V585.6" stroke="#333333" stroke-width="2" fill="none"/>
<rect x="747.2" y="367.2" width="184.2" height="90.9" fill="#E41A1C" stroke="#333333" stroke-width="2"/>
<line x1="747.2" y1="409.8" x2="931.4" y2="409.8" stroke="#333333" stroke-width="3.1"/>
<path d="M1083.9 221V314.4M1083.9 405.3V539.1" stroke="#333333" stroke-width="2" fill="none"/>
<rect x="992.3" y="314.4" width="184.1" height="90.9" fill="#377EB8" stroke="#333333" stroke-width="2"/>
<line x1="992.3" y1="352.4" x2="1176.4" y2="352.4" stroke="#333333" stroke-width="3.1"/>
<circle cx="878.4" cy="199.5" r="3.3" fill="none" stroke="#E41A1C" stroke-opacity="0.6" stroke-width="1.6"/>
<circle cx="832.4" cy="227.5" r="3.3" fill="none" stroke="#E41A1C" stroke-opacity="0.6" stroke-width="1.6"/>
<circle cx="825.9" cy="239.3" r="3.3" fill="none" stroke="#E41A1C" stroke-opacity="0.6" stroke-width="1.6"/>
<circle cx="796.6" cy="309.9" r="3.3" fill="none" stroke="#E41A1C" stroke-opacity="0.6" stroke-width="1.6"/>
<circle cx="824.9" cy="324.6" r="3.3" fill="none" stroke="#E41A1C" stroke-opacity="0.6" stroke-width="1.6"/>
<circle cx="816.6" cy="330.4" r="3.3" fill="none" stroke="#E41A1C" stroke-opacity="0.6" stroke-width="1.6"/>
<circle cx="875.9" cy="331.9" r="3.3" fill="none" stroke="#E41A1C" stroke-opacity="0.6" stroke-width="1.6"/>
<circle cx="885.4" cy="339.4" r="3.3" fill="none" stroke="#E41A1C" stroke-opacity="0.6" stroke-width="1.6"/>
<circle cx="816.6" cy="356.4" r="3.3" fill="none" stroke="#E41A1C" stroke-opacity="0.6" stroke-width="1.6"/>
<circle cx="829.6" cy="358.4" r="3.3" fill="none" stroke="#E41A1C" stroke-opacity="0.6" stroke-width="1.6"/>
<circle cx="848.9" cy="463.3" r="3.3" fill="none" stroke="#E41A1C" stroke-opacity="0.6" stroke-width="1.6"/>
<circle cx="864.7" cy="462.8" r="3.3" fill="none" stroke="#E41A1C" stroke-opacity="0.6" stroke-width="1.6"/>
<circle cx="882.2" cy="461.3" r="3.3" fill="none" stroke="#E41A1C" stroke-opacity="0.6" stroke-width="1.6"/>
<circle cx="844.7" cy="478.9" r="3.3" fill="none" stroke="#E41A1C" stroke-opacity="0.6" stroke-width="1.6"/>
<circle cx="830.9" cy="502.4" r="3.3" fill="none" stroke="#E41A1C" stroke-opacity="0.6" stroke-width="1.6"/>
<circle cx="833.9" cy="504.1" r="3.3" fill="none" stroke="#E41A1C" stroke-opacity="0.6" stroke-width="1.6"/>
<circle cx="864.2" cy="511.4" r="3.3" fill="none" stroke="#E41A1C" stroke-opacity="0.6" stroke-width="1.6"/>
<circle cx="814.6" cy="536.9" r="3.3" fill="none" stroke="#E41A1C" stroke-opacity="0.6" stroke-width="1.6"/>
<circle cx="810.6" cy="582.3" r="3.3" fill="none" stroke="#E41A1C" stroke-opacity="0.6" stroke-width="1.6"/>
<circle cx="876.4" cy="585.8" r="3.3" fill="none" stroke="#E41A1C" stroke-opacity="0.6" stroke-width="1.6"/>
<circle cx="856.7" cy="374.9" r="3.1" fill="none" stroke="#E41A1C" stroke-opacity="0.6" stroke-width="1.3"/>
<circle cx="852.2" cy="381.5" r="3.1" fill="none" stroke="#E41A1C" stroke-opacity="0.6" stroke-width="1.3"/>
<circle cx="867.7" cy="380.8" r="3.1" fill="none" stroke="#E41A1C" stroke-opacity="0.6" stroke-width="1.3"/>
<circle cx="881.7" cy="383.8" r="3.1" fill="none" stroke="#E41A1C" stroke-opacity="0.6" stroke-width="1.3"/>
<circle cx="803.1" cy="386.5" r="3.1" fill="none" stroke="#E41A1C" stroke-opacity="0.6" stroke-width="1.3"/>
<circle cx="817.9" cy="386" r="3.1" fill="none" stroke="#E41A1C" stroke-opacity="0.6" stroke-width="1.3"/>
<circle cx="855.7" cy="391.8" r="3.1" fill="none" stroke="#E41A1C" stroke-opacity="0.6" stroke-width="1.3"/>
<circle cx="824.1" cy="395" r="3.1" fill="none" stroke="#E41A1C" stroke-opacity="0.6" stroke-width="1.3"/>
<circle cx="835.9" cy="398" r="3.1" fill="none" stroke="#E41A1C" stroke-opacity="0.6" stroke-width="1.3"/>
<circle cx="809.9" cy="409.5" r="3.1" fill="none" stroke="#E41A1C" stroke-opacity="0.6" stroke-width="1.3"/>
<circle cx="823.9" cy="419" r="3.1" fill="none" stroke="#E41A1C" stroke-opacity="0.6" stroke-width="1.3"/>
<circle cx="883.2" cy="420.5" r="3.1" fill="none" stroke="#E41A1C" stroke-opacity="0.6" stroke-width="1.3"/>
<circle cx="884.7" cy="424" r="3.1" fill="none" stroke="#E41A1C" stroke-opacity="0.6" stroke-width="1.3"/>
<circle cx="843.2" cy="425.8" r="3.1" fill="none" stroke="#E41A1C" stroke-opacity="0.6" stroke-width="1.3"/>
<circle cx="845.2" cy="431.3" r="3.1" fill="none" stroke="#E41A1C" stroke-opacity="0.6" stroke-width="1.3"/>
<circle cx="796.4" cy="432.6" r="3.1" fill="none" stroke="#E41A1C" stroke-opacity="0.6" stroke-width="1.3"/>
<circle cx="864.9" cy="435.1" r="3.1" fill="none" stroke="#E41A1C" stroke-opacity="0.6" stroke-width="1.3"/>
<circle cx="800.1" cy="451.1" r="3.1" fill="none" stroke="#E41A1C" stroke-opacity="0.6" stroke-width="1.3"/>
<circle cx="815.6" cy="456.1" r="3.1" fill="none" stroke="#E41A1C" stroke-opacity="0.6" stroke-width="1.3"/>
<circle cx="1054.6" cy="84.3" r="3.3" fill="none" stroke="#377EB8" stroke-opacity="0.6" stroke-width="1.6"/>
<circle cx="1113.9" cy="122.1" r="3.3" fill="none" stroke="#377EB8" stroke-opacity="0.6" stroke-width="1.6"/>
<circle cx="1049.1" cy="153.6" r="3.3" fill="none" stroke="#377EB8" stroke-opacity="0.6" stroke-width="1.6"/>
<circle cx="1126.7" cy="220.8" r="3.3" fill="none" stroke="#377EB8" stroke-opacity="0.6" stroke-width="1.6"/>
<circle cx="1075.9" cy="229.8" r="3.3" fill="none" stroke="#377EB8" stroke-opacity="0.6" stroke-width="1.6"/>
<circle cx="1035.3" cy="237.8" r="3.3" fill="none" stroke="#377EB8" stroke-opacity="0.6" stroke-width="1.6"/>
<circle cx="1132.9" cy="244.3" r="3.3" fill="none" stroke="#377EB8" stroke-opacity="0.6" stroke-width="1.6"/>
<circle cx="1120.9" cy="247.5" r="3.3" fill="none" stroke="#377EB8" stroke-opacity="0.6" stroke-width="1.6"/>
<circle cx="1065.4" cy="248.5" r="3.3" fill="none" stroke="#377EB8" stroke-opacity="0.6" stroke-width="1.6"/>
<circle cx="1058.9" cy="251.3" r="3.3" fill="none" stroke="#377EB8" stroke-opacity="0.6" stroke-width="1.6"/>
<circle cx="1090.1" cy="253.6" r="3.3" fill="none" stroke="#377EB8" stroke-opacity="0.6" stroke-width="1.6"/>
<circle cx="1061.9" cy="263.6" r="3.3" fill="none" stroke="#377EB8" stroke-opacity="0.6" stroke-width="1.6"/>
<circle cx="1077.6" cy="273.8" r="3.3" fill="none" stroke="#377EB8" stroke-opacity="0.6" stroke-width="1.6"/>
<circle cx="1048.4" cy="277.6" r="3.3" fill="none" stroke="#377EB8" stroke-opacity="0.6" stroke-width="1.6"/>
<circle cx="1117.4" cy="286.6" r="3.3" fill="none" stroke="#377EB8" stroke-opacity="0.6" stroke-width="1.6"/>
<circle cx="1064.9" cy="289.6" r="3.5" fill="none" stroke="#377EB8" stroke-opacity="0.6" stroke-width="2.6"/>
<circle cx="1099.4" cy="289.1" r="3.3" fill="none" stroke="#377EB8" stroke-opacity="0.6" stroke-width="1.6"/>
<circle cx="1105.9" cy="291.6" r="3.5" fill="none" stroke="#377EB8" stroke-opacity="0.6" stroke-width="2.6"/>
<circle cx="1106.4" cy="295.1" r="3.5" fill="none" stroke="#377EB8" stroke-opacity="0.6" stroke-width="2.6"/>
<circle cx="1113.7" cy="299.6" r="3.5" fill="none" stroke="#377EB8" stroke-opacity="0.6" stroke-width="2.6"/>
<circle cx="1049.6" cy="299.1" r="3.5" fill="none" stroke="#377EB8" stroke-opacity="0.6" stroke-width="2.6"/>
<circle cx="1063.6" cy="307.6" r="3.5" fill="none" stroke="#377EB8" stroke-opacity="0.6" stroke-width="2.6"/>
<circle cx="1069.9" cy="310.6" r="3.3" fill="none" stroke="#377EB8" stroke-opacity="0.6" stroke-width="1.6"/>
<circle cx="1098.4" cy="313.1" r="3.5" fill="none" stroke="#377EB8" stroke-opacity="0.6" stroke-width="2.6"/>
<circle cx="1042.4" cy="314.1" r="3.3" fill="none" stroke="#377EB8" stroke-opacity="0.6" stroke-width="1.6"/>
<circle cx="1049.1" cy="314.1" r="3.3" fill="none" stroke="#377EB8" stroke-opacity="0.6" stroke-width="1.6"/>
<circle cx="1069.4" cy="409" r="3.5" fill="none" stroke="#377EB8" stroke-opacity="0.6" stroke-width="2.6"/>
<circle cx="1083.6" cy="407.3" r="3.5" fill="none" stroke="#377EB8" stroke-opacity="0.6" stroke-width="2.6"/>
<circle cx="1061.1" cy="414.3" r="3.5" fill="none" stroke="#377EB8" stroke-opacity="0.6" stroke-width="2.6"/>
<circle cx="1074.1" cy="415.5" r="3.3" fill="none" stroke="#377EB8" stroke-opacity="0.6" stroke-width="1.6"/>
<circle cx="1129.7" cy="414.8" r="3.3" fill="none" stroke="#377EB8" stroke-opacity="0.6" stroke-width="1.6"/>
<circle cx="1065.4" cy="422.3" r="3.3" fill="none" stroke="#377EB8" stroke-opacity="0.6" stroke-width="1.6"/>
<circle cx="1072.4" cy="421.5" r="3.3" fill="none" stroke="#377EB8" stroke-opacity="0.6" stroke-width="1.6"/>
<circle cx="1076.9" cy="420.3" r="3.3" fill="none" stroke="#377EB8" stroke-opacity="0.6" stroke-width="1.6"/>
<circle cx="1129.4" cy="421.8" r="3.3" fill="none" stroke="#377EB8" stroke-opacity="0.6" stroke-width="1.6"/>
<circle cx="1044.4" cy="425" r="3.3" fill="none" stroke="#377EB8" stroke-opacity="0.6" stroke-width="1.6"/>
<circle cx="1079.9" cy="427.6" r="3.3" fill="none" stroke="#377EB8" stroke-opacity="0.6" stroke-width="1.6"/>
<circle cx="1052.4" cy="430.6" r="3.3" fill="none" stroke="#377EB8" stroke-opacity="0.6" stroke-width="1.6"/>
<circle cx="1116.4" cy="431.3" r="3.3" fill="none" stroke="#377EB8" stroke-opacity="0.6" stroke-width="1.6"/>
<circle cx="1057.9" cy="452.3" r="3.3" fill="none" stroke="#377EB8" stroke-opacity="0.6" stroke-width="1.6"/>
<circle cx="1110.7" cy="453.6" r="3.3" fill="none" stroke="#377EB8" stroke-opacity="0.6" stroke-width="1.6"/>
<circle cx="1124.7" cy="463.8" r="3.3" fill="none" stroke="#377EB8" stroke-opacity="0.6" stroke-width="1.6"/>
<circle cx="1099.4" cy="467.8" r="3.3" fill="none" stroke="#377EB8" stroke-opacity="0.6" stroke-width="1.6"/>
<circle cx="1082.9" cy="477.4" r="3.3" fill="none" stroke="#377EB8" stroke-opacity="0.6" stroke-width="1.6"/>
<circle cx="1125.4" cy="475.1" r="3.3" fill="none" stroke="#377EB8" stroke-opacity="0.6" stroke-width="1.6"/>
<circle cx="1129.4" cy="530.9" r="3.3" fill="none" stroke="#377EB8" stroke-opacity="0.6" stroke-width="1.6"/>
<circle cx="1041.6" cy="539.4" r="3.3" fill="none" stroke="#377EB8" stroke-opacity="0.6" stroke-width="1.6"/>
<circle cx="1058.6" cy="559.8" r="3.3" fill="none" stroke="#377EB8" stroke-opacity="0.6" stroke-width="1.6"/>
<circle cx="1045.4" cy="571.3" r="3.3" fill="none" stroke="#377EB8" stroke-opacity="0.6" stroke-width="1.6"/>
<circle cx="1102.4" cy="587.8" r="3.3" fill="none" stroke="#377EB8" stroke-opacity="0.6" stroke-width="1.6"/>
<circle cx="1096.9" cy="590.6" r="3.3" fill="none" stroke="#377EB8" stroke-opacity="0.6" stroke-width="1.6"/>
<circle cx="1091.9" cy="316.6" r="3.1" fill="none" stroke="#377EB8" stroke-opacity="0.6" stroke-width="1.3"/>
<circle cx="1102.4" cy="319.6" r="3.1" fill="none" stroke="#377EB8" stroke-opacity="0.6" stroke-width="1.3"/>
<circle cx="1108.9" cy="319.4" r="3.1" fill="none" stroke="#377EB8" stroke-opacity="0.6" stroke-width="1.3"/>
<circle cx="1127.7" cy="323.4" r="3.1" fill="none" stroke="#377EB8" stroke-opacity="0.6" stroke-width="1.3"/>
<circle cx="1052.4" cy="324.9" r="3.1" fill="none" stroke="#377EB8" stroke-opacity="0.6" stroke-width="1.3"/>
<circle cx="1039.3" cy="327.1" r="3.1" fill="none" stroke="#377EB8" stroke-opacity="0.6" stroke-width="1.3"/>
<circle cx="1047.4" cy="329.6" r="3.1" fill="none" stroke="#377EB8" stroke-opacity="0.6" stroke-width="1.3"/>
<circle cx="1088.6" cy="329.6" r="3.1" fill="none" stroke="#377EB8" stroke-opacity="0.6" stroke-width="1.3"/>
<circle cx="1110.9" cy="329.1" r="3.1" fill="none" stroke="#377EB8" stroke-opacity="0.6" stroke-width="1.3"/>
<circle cx="1122.9" cy="329.9" r="3.1" fill="none" stroke="#377EB8" stroke-opacity="0.6" stroke-width="1.3"/>
<circle cx="1071.4" cy="332.1" r="3.1" fill="none" stroke="#377EB8" stroke-opacity="0.6" stroke-width="1.3"/>
<circle cx="1107.4" cy="334.4" r="3.1" fill="none" stroke="#377EB8" stroke-opacity="0.6" stroke-width="1.3"/>
<circle cx="1096.4" cy="336.6" r="3.1" fill="none" stroke="#377EB8" stroke-opacity="0.6" stroke-width="1.3"/>
<circle cx="1101.4" cy="337.4" r="3.1" fill="none" stroke="#377EB8" stroke-opacity="0.6" stroke-width="1.3"/>
<circle cx="1042.4" cy="341.1" r="3.1" fill="none" stroke="#377EB8" stroke-opacity="0.6" stroke-width="1.3"/>
<circle cx="1046.6" cy="341.9" r="3.1" fill="none" stroke="#377EB8" stroke-opacity="0.6" stroke-width="1.3"/>
<circle cx="1076.4" cy="344.9" r="3.1" fill="none" stroke="#377EB8" stroke-opacity="0.6" stroke-width="1.3"/>
<circle cx="1127.7" cy="344.6" r="3.1" fill="none" stroke="#377EB8" stroke-opacity="0.6" stroke-width="1.3"/>
<circle cx="1057.9" cy="353.7" r="3.1" fill="none" stroke="#377EB8" stroke-opacity="0.6" stroke-width="1.3"/>
<circle cx="1089.1" cy="352.2" r="3.1" fill="none" stroke="#377EB8" stroke-opacity="0.6" stroke-width="1.3"/>
<circle cx="1105.4" cy="350.7" r="3.1" fill="none" stroke="#377EB8" stroke-opacity="0.6" stroke-width="1.3"/>
<circle cx="1122.4" cy="352.2" r="3.1" fill="none" stroke="#377EB8" stroke-opacity="0.6" stroke-width="1.3"/>
<circle cx="1073.1" cy="355.9" r="3.1" fill="none" stroke="#377EB8" stroke-opacity="0.6" stroke-width="1.3"/>
<circle cx="1087.9" cy="359.4" r="3.1" fill="none" stroke="#377EB8" stroke-opacity="0.6" stroke-width="1.3"/>
<circle cx="1117.4" cy="360.4" r="3.1" fill="none" stroke="#377EB8" stroke-opacity="0.6" stroke-width="1.3"/>
<circle cx="1129.4" cy="360.4" r="3.1" fill="none" stroke="#377EB8" stroke-opacity="0.6" stroke-width="1.3"/>
<circle cx="1094.7" cy="364.2" r="3.1" fill="none" stroke="#377EB8" stroke-opacity="0.6" stroke-width="1.3"/>
<circle cx="1100.9" cy="363.4" r="3.1" fill="none" stroke="#377EB8" stroke-opacity="0.6" stroke-width="1.3"/>
<circle cx="1106.2" cy="362.9" r="3.1" fill="none" stroke="#377EB8" stroke-opacity="0.6" stroke-width="1.3"/>
<circle cx="1076.1" cy="369.2" r="3.1" fill="none" stroke="#377EB8" stroke-opacity="0.6" stroke-width="1.3"/>
<circle cx="1112.4" cy="369.7" r="3.1" fill="none" stroke="#377EB8" stroke-opacity="0.6" stroke-width="1.3"/>
<circle cx="1105.9" cy="374.2" r="3.1" fill="none" stroke="#377EB8" stroke-opacity="0.6" stroke-width="1.3"/>
<circle cx="1088.4" cy="378.3" r="3.1" fill="none" stroke="#377EB8" stroke-opacity="0.6" stroke-width="1.3"/>
<circle cx="1067.4" cy="381.5" r="3.1" fill="none" stroke="#377EB8" stroke-opacity="0.6" stroke-width="1.3"/>
<circle cx="1058.6" cy="383" r="3.1" fill="none" stroke="#377EB8" stroke-opacity="0.6" stroke-width="1.3"/>
<circle cx="1067.4" cy="385" r="3.1" fill="none" stroke="#377EB8" stroke-opacity="0.6" stroke-width="1.3"/>
<circle cx="1100.2" cy="383" r="3.1" fill="none" stroke="#377EB8" stroke-opacity="0.6" stroke-width="1.3"/>
<circle cx="1101.4" cy="387.3" r="3.1" fill="none" stroke="#377EB8" stroke-opacity="0.6" stroke-width="1.3"/>
<circle cx="1104.7" cy="392.8" r="3.1" fill="none" stroke="#377EB8" stroke-opacity="0.6" stroke-width="1.3"/>
<circle cx="1093.9" cy="394.5" r="3.1" fill="none" stroke="#377EB8" stroke-opacity="0.6" stroke-width="1.3"/>
<circle cx="1052.4" cy="400" r="3.1" fill="none" stroke="#377EB8" stroke-opacity="0.6" stroke-width="1.3"/>
<circle cx="1070.9" cy="400.5" r="3.1" fill="none" stroke="#377EB8" stroke-opacity="0.6" stroke-width="1.3"/>
<circle cx="1087.6" cy="400.5" r="3.1" fill="none" stroke="#377EB8" stroke-opacity="0.6" stroke-width="1.3"/>
<circle cx="878.4" cy="199.5" r="2.8" fill="#000" fill-opacity="0.64"/>
<circle cx="832.4" cy="227.5" r="2.8" fill="#000" fill-opacity="0.64"/>
<circle cx="825.9" cy="239.3" r="2.8" fill="#000" fill-opacity="0.64"/>
<circle cx="796.6" cy="309.9" r="2.8" fill="#000" fill-opacity="0.64"/>
<circle cx="824.9" cy="324.6" r="2.8" fill="#000" fill-opacity="0.64"/>
<circle cx="816.6" cy="330.4" r="2.8" fill="#000" fill-opacity="0.64"/>
<circle cx="875.9" cy="331.9" r="2.8" fill="#000" fill-opacity="0.64"/>
<circle cx="885.4" cy="339.4" r="2.8" fill="#000" fill-opacity="0.64"/>
<circle cx="816.6" cy="356.4" r="2.8" fill="#000" fill-opacity="0.64"/>
<circle cx="829.6" cy="358.4" r="2.8" fill="#000" fill-opacity="0.64"/>
<circle cx="848.9" cy="463.3" r="2.8" fill="#000" fill-opacity="0.64"/>
<circle cx="864.7" cy="462.8" r="2.8" fill="#000" fill-opacity="0.64"/>
<circle cx="882.2" cy="461.3" r="2.8" fill="#000" fill-opacity="0.64"/>
<circle cx="844.7" cy="478.9" r="2.8" fill="#000" fill-opacity="0.64"/>
<circle cx="830.9" cy="502.4" r="2.8" fill="#000" fill-opacity="0.64"/>
<circle cx="833.9" cy="504.1" r="2.8" fill="#000" fill-opacity="0.64"/>
<circle cx="864.2" cy="511.4" r="2.8" fill="#000" fill-opacity="0.64"/>
<circle cx="814.6" cy="536.9" r="2.8" fill="#000" fill-opacity="0.64"/>
<circle cx="810.6" cy="582.3" r="2.8" fill="#000" fill-opacity="0.64"/>
<circle cx="876.4" cy="585.8" r="2.8" fill="#000" fill-opacity="0.64"/>
<circle cx="856.7" cy="374.9" r="2.8" fill="#000" fill-opacity="0.7"/>
<circle cx="852.2" cy="381.5" r="2.8" fill="#000" fill-opacity="0.7"/>
<circle cx="867.7" cy="380.8" r="2.8" fill="#000" fill-opacity="0.7"/>
<circle cx="881.7" cy="383.8" r="2.8" fill="#000" fill-opacity="0.7"/>
<circle cx="803.1" cy="386.5" r="2.8" fill="#000" fill-opacity="0.7"/>
<circle cx="817.9" cy="386" r="2.8" fill="#000" fill-opacity="0.7"/>
<circle cx="855.7" cy="391.8" r="2.8" fill="#000" fill-opacity="0.7"/>
<circle cx="824.1" cy="395" r="2.8" fill="#000" fill-opacity="0.7"/>
<circle cx="835.9" cy="398" r="2.8" fill="#000" fill-opacity="0.7"/>
<circle cx="809.9" cy="409.5" r="2.8" fill="#000" fill-opacity="0.7"/>
<circle cx="823.9" cy="419" r="2.8" fill="#000" fill-opacity="0.7"/>
<circle cx="883.2" cy="420.5" r="2.8" fill="#000" fill-opacity="0.7"/>
<circle cx="884.7" cy="424" r="2.8" fill="#000" fill-opacity="0.7"/>
<circle cx="843.2" cy="425.8" r="2.8" fill="#000" fill-opacity="0.7"/>
<circle cx="845.2" cy="431.3" r="2.8" fill="#000" fill-opacity="0.7"/>
<circle cx="796.4" cy="432.6" r="2.8" fill="#000" fill-opacity="0.7"/>
<circle cx="864.9" cy="435.1" r="2.8" fill="#000" fill-opacity="0.7"/>
<circle cx="800.1" cy="451.1" r="2.8" fill="#000" fill-opacity="0.7"/>
<circle cx="815.6" cy="456.1" r="2.8" fill="#000" fill-opacity="0.7"/>
<circle cx="1054.6" cy="84.3" r="2.8" fill="#04121f" fill-opacity="0.7"/>
<circle cx="1113.9" cy="122.1" r="2.8" fill="#04121f" fill-opacity="0.7"/>
<circle cx="1049.1" cy="153.6" r="2.8" fill="#04121f" fill-opacity="0.7"/>
<circle cx="1126.7" cy="220.8" r="2.8" fill="#04121f" fill-opacity="0.7"/>
<circle cx="1075.9" cy="229.8" r="2.8" fill="#04121f" fill-opacity="0.7"/>
<circle cx="1035.3" cy="237.8" r="2.8" fill="#04121f" fill-opacity="0.7"/>
<circle cx="1132.9" cy="244.3" r="2.8" fill="#04121f" fill-opacity="0.7"/>
<circle cx="1120.9" cy="247.5" r="2.8" fill="#04121f" fill-opacity="0.7"/>
<circle cx="1065.4" cy="248.5" r="2.8" fill="#04121f" fill-opacity="0.7"/>
<circle cx="1058.9" cy="251.3" r="2.8" fill="#04121f" fill-opacity="0.7"/>
<circle cx="1090.1" cy="253.6" r="2.8" fill="#04121f" fill-opacity="0.7"/>
<circle cx="1061.9" cy="263.6" r="2.8" fill="#04121f" fill-opacity="0.7"/>
<circle cx="1077.6" cy="273.8" r="2.8" fill="#04121f" fill-opacity="0.7"/>
<circle cx="1048.4" cy="277.6" r="2.8" fill="#04121f" fill-opacity="0.7"/>
<circle cx="1117.4" cy="286.6" r="2.8" fill="#04121f" fill-opacity="0.7"/>
<circle cx="1064.9" cy="289.6" r="2.8" fill="#04121f" fill-opacity="0.7"/>
<circle cx="1099.4" cy="289.1" r="2.8" fill="#04121f" fill-opacity="0.7"/>
<circle cx="1105.9" cy="291.6" r="2.8" fill="#04121f" fill-opacity="0.7"/>
<circle cx="1106.4" cy="295.1" r="2.8" fill="#04121f" fill-opacity="0.7"/>
<circle cx="1113.7" cy="299.6" r="2.8" fill="#04121f" fill-opacity="0.7"/>
<circle cx="1049.6" cy="299.1" r="2.8" fill="#04121f" fill-opacity="0.7"/>
<circle cx="1063.6" cy="307.6" r="2.8" fill="#04121f" fill-opacity="0.7"/>
<rect x="1067.4" y="308.2" width="4.9" height="4.9" fill="#04121f" fill-opacity="0.7"/>
<circle cx="1098.4" cy="313.1" r="2.8" fill="#04121f" fill-opacity="0.7"/>
<circle cx="1042.4" cy="314.1" r="2.8" fill="#04121f" fill-opacity="0.7"/>
<circle cx="1049.1" cy="314.1" r="2.8" fill="#04121f" fill-opacity="0.7"/>
<circle cx="1069.4" cy="409" r="2.8" fill="#04121f" fill-opacity="0.7"/>
<circle cx="1083.6" cy="407.3" r="2.8" fill="#04121f" fill-opacity="0.7"/>
<circle cx="1061.1" cy="414.3" r="2.8" fill="#04121f" fill-opacity="0.7"/>
<circle cx="1074.1" cy="415.5" r="2.8" fill="#04121f" fill-opacity="0.7"/>
<circle cx="1129.7" cy="414.8" r="2.8" fill="#04121f" fill-opacity="0.7"/>
<circle cx="1065.4" cy="422.3" r="2.8" fill="#04121f" fill-opacity="0.7"/>
<circle cx="1072.4" cy="421.5" r="2.8" fill="#04121f" fill-opacity="0.7"/>
<circle cx="1076.9" cy="420.3" r="2.8" fill="#04121f" fill-opacity="0.7"/>
<circle cx="1129.4" cy="421.8" r="2.8" fill="#04121f" fill-opacity="0.7"/>
<circle cx="1044.4" cy="425" r="2.8" fill="#04121f" fill-opacity="0.7"/>
<circle cx="1079.9" cy="427.6" r="2.8" fill="#04121f" fill-opacity="0.7"/>
<circle cx="1052.4" cy="430.6" r="2.8" fill="#04121f" fill-opacity="0.7"/>
<circle cx="1116.4" cy="431.3" r="2.8" fill="#04121f" fill-opacity="0.7"/>
<circle cx="1057.9" cy="452.3" r="2.8" fill="#04121f" fill-opacity="0.7"/>
<circle cx="1110.7" cy="453.6" r="2.8" fill="#04121f" fill-opacity="0.7"/>
<circle cx="1124.7" cy="463.8" r="2.8" fill="#04121f" fill-opacity="0.7"/>
<circle cx="1099.4" cy="467.8" r="2.8" fill="#04121f" fill-opacity="0.7"/>
<circle cx="1082.9" cy="477.4" r="2.8" fill="#04121f" fill-opacity="0.7"/>
<circle cx="1125.4" cy="475.1" r="2.8" fill="#04121f" fill-opacity="0.7"/>
<circle cx="1129.4" cy="530.9" r="2.8" fill="#04121f" fill-opacity="0.7"/>
<circle cx="1041.6" cy="539.4" r="2.8" fill="#04121f" fill-opacity="0.7"/>
<circle cx="1058.6" cy="559.8" r="2.8" fill="#04121f" fill-opacity="0.7"/>
<circle cx="1045.4" cy="571.3" r="2.8" fill="#04121f" fill-opacity="0.7"/>
<circle cx="1102.4" cy="587.8" r="2.8" fill="#04121f" fill-opacity="0.7"/>
<circle cx="1096.9" cy="590.6" r="2.8" fill="#04121f" fill-opacity="0.7"/>
<circle cx="1091.9" cy="316.6" r="2.4" fill="#04121f" fill-opacity="0.64"/>
<circle cx="1102.4" cy="319.6" r="2.4" fill="#04121f" fill-opacity="0.64"/>
<circle cx="1108.9" cy="319.4" r="2.4" fill="#04121f" fill-opacity="0.64"/>
<circle cx="1127.7" cy="323.4" r="2.4" fill="#04121f" fill-opacity="0.64"/>
<circle cx="1052.4" cy="324.9" r="2.4" fill="#04121f" fill-opacity="0.64"/>
<circle cx="1039.3" cy="327.1" r="2.4" fill="#04121f" fill-opacity="0.64"/>
<circle cx="1047.4" cy="329.6" r="2.4" fill="#04121f" fill-opacity="0.64"/>
<rect x="1086.5" y="327.5" width="4.2" height="4.2" fill="#04121f" fill-opacity="0.64"/>
<circle cx="1110.9" cy="329.1" r="2.4" fill="#04121f" fill-opacity="0.64"/>
<circle cx="1122.9" cy="329.9" r="2.4" fill="#04121f" fill-opacity="0.64"/>
<circle cx="1071.4" cy="332.1" r="2.4" fill="#04121f" fill-opacity="0.64"/>
<circle cx="1107.4" cy="334.4" r="2.4" fill="#04121f" fill-opacity="0.64"/>
<circle cx="1096.4" cy="336.6" r="2.4" fill="#04121f" fill-opacity="0.64"/>
<circle cx="1101.4" cy="337.4" r="2.4" fill="#04121f" fill-opacity="0.64"/>
<circle cx="1042.4" cy="341.1" r="2.4" fill="#04121f" fill-opacity="0.64"/>
<circle cx="1046.6" cy="341.9" r="2.4" fill="#04121f" fill-opacity="0.64"/>
<circle cx="1076.4" cy="344.9" r="2.4" fill="#04121f" fill-opacity="0.64"/>
<circle cx="1127.7" cy="344.6" r="2.4" fill="#04121f" fill-opacity="0.64"/>
<circle cx="1057.9" cy="353.7" r="2.4" fill="#04121f" fill-opacity="0.64"/>
<circle cx="1089.1" cy="352.2" r="2.4" fill="#04121f" fill-opacity="0.64"/>
<circle cx="1105.4" cy="350.7" r="2.4" fill="#04121f" fill-opacity="0.64"/>
<circle cx="1122.4" cy="352.2" r="2.4" fill="#04121f" fill-opacity="0.64"/>
<circle cx="1073.1" cy="355.9" r="2.4" fill="#04121f" fill-opacity="0.64"/>
<circle cx="1087.9" cy="359.4" r="2.4" fill="#04121f" fill-opacity="0.64"/>
<circle cx="1117.4" cy="360.4" r="2.4" fill="#04121f" fill-opacity="0.64"/>
<circle cx="1129.4" cy="360.4" r="2.4" fill="#04121f" fill-opacity="0.64"/>
<circle cx="1094.7" cy="364.2" r="2.4" fill="#04121f" fill-opacity="0.64"/>
<circle cx="1100.9" cy="363.4" r="2.4" fill="#04121f" fill-opacity="0.64"/>
<circle cx="1106.2" cy="362.9" r="2.4" fill="#04121f" fill-opacity="0.64"/>
<circle cx="1076.1" cy="369.2" r="2.4" fill="#04121f" fill-opacity="0.64"/>
<circle cx="1112.4" cy="369.7" r="2.4" fill="#04121f" fill-opacity="0.64"/>
<circle cx="1105.9" cy="374.2" r="2.4" fill="#04121f" fill-opacity="0.64"/>
<circle cx="1088.4" cy="378.3" r="2.4" fill="#04121f" fill-opacity="0.64"/>
<circle cx="1067.4" cy="381.5" r="2.4" fill="#04121f" fill-opacity="0.64"/>
<circle cx="1058.6" cy="383" r="2.4" fill="#04121f" fill-opacity="0.64"/>
<circle cx="1067.4" cy="385" r="2.4" fill="#04121f" fill-opacity="0.64"/>
<circle cx="1100.2" cy="383" r="2.4" fill="#04121f" fill-opacity="0.64"/>
<circle cx="1101.4" cy="387.3" r="2.4" fill="#04121f" fill-opacity="0.64"/>
<circle cx="1104.7" cy="392.8" r="2.4" fill="#04121f" fill-opacity="0.64"/>
<circle cx="1093.9" cy="394.5" r="2.4" fill="#04121f" fill-opacity="0.64"/>
<circle cx="1052.4" cy="400" r="2.4" fill="#04121f" fill-opacity="0.64"/>
<circle cx="1070.9" cy="400.5" r="2.4" fill="#04121f" fill-opacity="0.64"/>
<circle cx="1087.6" cy="400.5" r="2.4" fill="#04121f" fill-opacity="0.64"/>
<rect x="692.60" y="22.60" width="537.80" height="659.80" fill="none" stroke="#3d3d3d" stroke-width="1.2"/>
<text x="716.7" y="52.7" font-size="18.4" fill="#000">p &lt; 0.001</text>
<text transform="translate(659.4,352.5) rotate(-90)" font-size="23.1" fill="#000" text-anchor="middle">GFAP NPX</text>
<line x1="1366.5" y1="324.4" x2="2035" y2="424.6" stroke="#E41A1C" stroke-width="2.2"/>
<line x1="1366.5" y1="496.8" x2="2035" y2="189.4" stroke="#377EB8" stroke-width="2.2"/>
<path d="M1366.5 115.4L1374.9 120L1383.2 124.5L1391.6 129.1L1399.9 133.6L1408.3 138.2L1416.6 142.7L1425 147.2L1433.3 151.7L1441.7 156.1L1450.1 160.6L1458.4 165L1466.8 169.5L1475.1 173.9L1483.5 178.3L1491.8 182.6L1500.2 187L1508.6 191.3L1516.9 195.6L1525.3 199.9L1533.6 204.1L1542 208.4L1550.3 212.6L1558.7 216.7L1567 220.8L1575.4 224.9L1583.8 229L1592.1 233L1600.5 236.9L1608.8 240.8L1617.2 244.7L1625.5 248.5L1633.9 252.2L1642.3 255.9L1650.6 259.5L1659 263L1667.3 266.5L1675.7 269.9L1684 273.2L1692.4 276.4L1700.8 279.5L1709.1 282.5L1717.5 285.4L1725.8 288.1L1734.2 290.8L1742.5 293.3L1750.9 295.7L1759.2 298L1767.6 300.1L1776 302L1784.3 303.8L1792.7 305.5L1801 307L1809.4 308.3L1817.7 309.5L1826.1 310.5L1834.5 311.4L1842.8 312.1L1851.2 312.6L1859.5 313.1L1867.9 313.3L1876.2 313.4L1884.6 313.4L1892.9 313.3L1901.3 313L1909.7 312.7L1918 312.2L1926.4 311.6L1934.7 310.9L1943.1 310.1L1951.4 309.2L1959.8 308.3L1968.2 307.3L1976.5 306.2L1984.9 305L1993.2 303.8L2001.6 302.5L2009.9 301.1L2018.3 299.7L2026.6 298.3L2035 296.8L2035 552.4L2026.6 548.4L2018.3 544.5L2009.9 540.5L2001.6 536.7L1993.2 532.9L1984.9 529.2L1976.5 525.5L1968.2 521.9L1959.8 518.4L1951.4 514.9L1943.1 511.5L1934.7 508.2L1926.4 505L1918 502L1909.7 499L1901.3 496.1L1892.9 493.3L1884.6 490.7L1876.2 488.2L1867.9 485.8L1859.5 483.5L1851.2 481.4L1842.8 479.5L1834.5 477.7L1826.1 476.1L1817.7 474.6L1809.4 473.2L1801 472.1L1792.7 471.1L1784.3 470.2L1776 469.5L1767.6 469L1759.2 468.6L1750.9 468.3L1742.5 468.2L1734.2 468.2L1725.8 468.4L1717.5 468.6L1709.1 469L1700.8 469.5L1692.4 470.1L1684 470.8L1675.7 471.6L1667.3 472.5L1659 473.4L1650.6 474.5L1642.3 475.6L1633.9 476.7L1625.5 478L1617.2 479.3L1608.8 480.6L1600.5 482L1592.1 483.5L1583.8 485L1575.4 486.5L1567 488.1L1558.7 489.7L1550.3 491.4L1542 493L1533.6 494.8L1525.3 496.5L1516.9 498.3L1508.6 500.1L1500.2 501.9L1491.8 503.7L1483.5 505.6L1475.1 507.5L1466.8 509.4L1458.4 511.3L1450.1 513.2L1441.7 515.2L1433.3 517.2L1425 519.2L1416.6 521.2L1408.3 523.2L1399.9 525.2L1391.6 527.2L1383.2 529.3L1374.9 531.3L1366.5 533.4Z" fill="#E41A1C" fill-opacity="0.15"/>
<path d="M1366.5 364.4L1374.9 362.3L1383.2 360.2L1391.6 358.1L1399.9 356L1408.3 353.9L1416.6 351.8L1425 349.6L1433.3 347.4L1441.7 345.3L1450.1 343.1L1458.4 340.9L1466.8 338.7L1475.1 336.4L1483.5 334.2L1491.8 331.9L1500.2 329.7L1508.6 327.4L1516.9 325.1L1525.3 322.7L1533.6 320.4L1542 318L1550.3 315.6L1558.7 313.2L1567 310.7L1575.4 308.2L1583.8 305.7L1592.1 303.2L1600.5 300.7L1608.8 298.1L1617.2 295.5L1625.5 292.8L1633.9 290.1L1642.3 287.4L1650.6 284.6L1659 281.8L1667.3 279L1675.7 276.1L1684 273.2L1692.4 270.2L1700.8 267.2L1709.1 264.1L1717.5 261L1725.8 257.8L1734.2 254.6L1742.5 251.3L1750.9 248L1759.2 244.6L1767.6 241.1L1776 237.6L1784.3 234.1L1792.7 230.5L1801 226.8L1809.4 223L1817.7 219.2L1826.1 215.3L1834.5 211.4L1842.8 207.4L1851.2 203.3L1859.5 199.2L1867.9 195.1L1876.2 190.8L1884.6 186.5L1892.9 182.2L1901.3 177.8L1909.7 173.3L1918 168.8L1926.4 164.2L1934.7 159.6L1943.1 155L1951.4 150.3L1959.8 145.5L1968.2 140.7L1976.5 135.9L1984.9 131L1993.2 126L2001.6 121.1L2009.9 116.1L2018.3 111.1L2026.6 106L2035 100.9L2035 277.9L2026.6 280.5L2018.3 283.1L2009.9 285.8L2001.6 288.4L1993.2 291.2L1984.9 293.9L1976.5 296.7L1968.2 299.6L1959.8 302.5L1951.4 305.4L1943.1 308.4L1934.7 311.4L1926.4 314.5L1918 317.6L1909.7 320.8L1901.3 324L1892.9 327.3L1884.6 330.6L1876.2 334L1867.9 337.4L1859.5 341L1851.2 344.5L1842.8 348.2L1834.5 351.8L1826.1 355.6L1817.7 359.4L1809.4 363.3L1801 367.2L1792.7 371.2L1784.3 375.3L1776 379.4L1767.6 383.6L1759.2 387.8L1750.9 392.1L1742.5 396.5L1734.2 400.9L1725.8 405.3L1717.5 409.8L1709.1 414.4L1700.8 419L1692.4 423.7L1684 428.4L1675.7 433.2L1667.3 438L1659 442.8L1650.6 447.7L1642.3 452.6L1633.9 457.6L1625.5 462.6L1617.2 467.6L1608.8 472.7L1600.5 477.8L1592.1 482.9L1583.8 488L1575.4 493.2L1567 498.4L1558.7 503.7L1550.3 508.9L1542 514.2L1533.6 519.5L1525.3 524.9L1516.9 530.2L1508.6 535.6L1500.2 541L1491.8 546.4L1483.5 551.8L1475.1 557.2L1466.8 562.7L1458.4 568.2L1450.1 573.7L1441.7 579.2L1433.3 584.7L1425 590.2L1416.6 595.7L1408.3 601.3L1399.9 606.8L1391.6 612.4L1383.2 618L1374.9 623.6L1366.5 629.2Z" fill="#377EB8" fill-opacity="0.15"/>
<rect x="1333.62" y="56.62" width="734.7" height="599.75" fill="none" stroke="#3d3d3d" stroke-width="1.25"/>
<line x1="1329" y1="181.4" x2="1333.5" y2="181.4" stroke="#333333" stroke-width="1.1"/>
<text x="1325.4" y="188" font-size="18.5" fill="#4D4D4D" text-anchor="end">0.3</text>
<line x1="1329" y1="327.7" x2="1333.5" y2="327.7" stroke="#333333" stroke-width="1.1"/>
<text x="1325.4" y="334.3" font-size="18.5" fill="#4D4D4D" text-anchor="end">0.0</text>
<line x1="1329" y1="474" x2="1333.5" y2="474" stroke="#333333" stroke-width="1.1"/>
<text x="1325.4" y="480.6" font-size="18.5" fill="#4D4D4D" text-anchor="end">−0.3</text>
<line x1="1329" y1="620.3" x2="1333.5" y2="620.3" stroke="#333333" stroke-width="1.1"/>
<text x="1325.4" y="626.9" font-size="18.5" fill="#4D4D4D" text-anchor="end">−0.6</text>
<line x1="1396.9" y1="656.5" x2="1396.9" y2="661.3" stroke="#333333" stroke-width="1.1"/>
<text x="1396.9" y="677.7" font-size="18.5" fill="#4D4D4D" text-anchor="middle">−15</text>
<line x1="1548.8" y1="656.5" x2="1548.8" y2="661.3" stroke="#333333" stroke-width="1.1"/>
<text x="1548.8" y="677.7" font-size="18.5" fill="#4D4D4D" text-anchor="middle">−10</text>
<line x1="1700.8" y1="656.5" x2="1700.8" y2="661.3" stroke="#333333" stroke-width="1.1"/>
<text x="1700.8" y="677.7" font-size="18.5" fill="#4D4D4D" text-anchor="middle">−5</text>
<line x1="1852.7" y1="656.5" x2="1852.7" y2="661.3" stroke="#333333" stroke-width="1.1"/>
<text x="1852.7" y="677.7" font-size="18.5" fill="#4D4D4D" text-anchor="middle">0</text>
<line x1="2004.6" y1="656.5" x2="2004.6" y2="661.3" stroke="#333333" stroke-width="1.1"/>
<text x="2004.6" y="677.7" font-size="18.5" fill="#4D4D4D" text-anchor="middle">5</text>
<text x="1366.6" y="97.2" font-size="18.75" fill="#000">Interaction p = 0.017</text>
<text x="1701.2" y="702.6" font-size="23.1" fill="#000" text-anchor="middle">Time Between Samples</text>
<text transform="translate(1286.6,356.8) rotate(-90)" font-size="23.1" fill="#000" text-anchor="middle">predicted GFAP NPX</text>
<text x="2094.1" y="336.4" font-size="23.1" fill="#000">Group</text>
<rect x="2095.6" y="348.5" width="22.4" height="22.4" fill="#DEDEDE" stroke="#E41A1C" stroke-width="1.7"/>
<line x1="2095.6" y1="359.7" x2="2118" y2="359.7" stroke="#E41A1C" stroke-width="2.3"/>
<text x="2127.5" y="366" font-size="18.5" fill="#000">HC</text>
<rect x="2095.6" y="373.7" width="22.4" height="22.4" fill="#DEDEDE" stroke="#377EB8" stroke-width="1.7"/>
<line x1="2095.6" y1="384.9" x2="2118" y2="384.9" stroke="#377EB8" stroke-width="2.3"/>
<text x="2127.5" y="391.2" font-size="18.5" fill="#000">MS</text>
</svg>
</body></html>
